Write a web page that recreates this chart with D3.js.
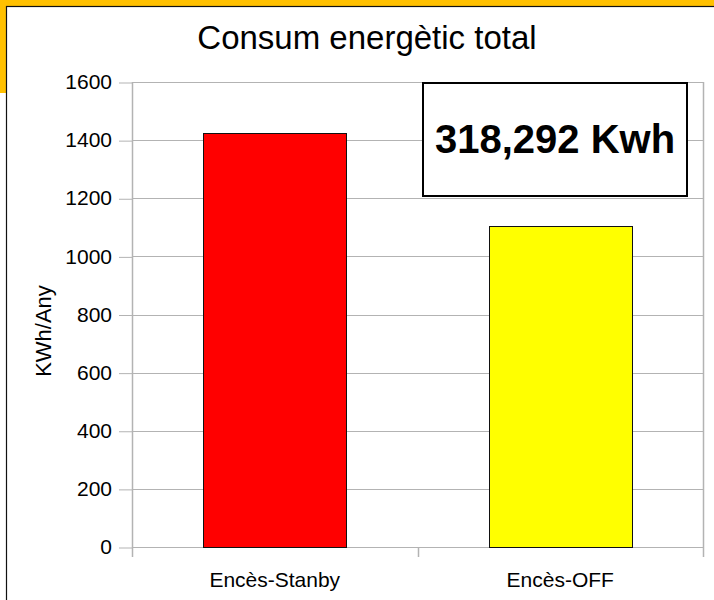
<!DOCTYPE html>
<html>
<head>
<meta charset="utf-8">
<script src="https://cdn.jsdelivr.net/npm/d3@7"></script>
<style>
  body { margin: 0; background: #fff; }
  text { font-family: Arial, "Liberation Sans", sans-serif; }
</style>
</head>
<body>
<div id="my_dataviz"></div>
<script>

// data
var categories = ["Encès-Stanby", "Encès-OFF"];
var consum = [1424, 1105.7];
var barColors = ["#ff0000", "#ffff00"];
var yTicks = [0, 200, 400, 600, 800, 1000, 1200, 1400, 1600];
var title = "Consum energètic total";
var yLabel = "KWh/Any";
var boxLabel = "318,292 Kwh";

var width = 714, height = 600;
var margin = {top: 82, right: 11, bottom: 53, left: 132};

var svg = d3.select("#my_dataviz")
  .append("svg")
  .attr("width", width)
  .attr("height", height);

// orange frame behind the white panel
svg.append("rect")
  .attr("x", 0).attr("y", 0)
  .attr("width", width).attr("height", 93)
  .attr("fill", "#ffc000");

svg.append("rect")
  .attr("x", 6.5).attr("y", 6.5)
  .attr("width", width + 20).attr("height", height + 20)
  .attr("fill", "#fff")
  .attr("stroke", "#111")
  .attr("stroke-width", 1.2);

var x = d3.scaleBand()
  .domain(categories)
  .range([margin.left, width - margin.right])
  .padding(0);

var y = d3.scaleLinear()
  .domain([0, 1600])
  .range([height - margin.bottom, margin.top]);

// horizontal grid + left ticks
var yAxis = svg.append("g")
  .attr("transform", "translate(" + margin.left + ",0)")
  .call(d3.axisLeft(y).tickValues(yTicks).tickFormat(d3.format("d"))
    .tickSize(13).tickPadding(7).tickSizeOuter(0));

yAxis.select(".domain").remove();
yAxis.selectAll(".tick line").attr("stroke", "#b3b3b3");
yAxis.selectAll(".tick text")
  .attr("font-size", "21px")
  .attr("fill", "#000");

svg.append("g").selectAll("line")
  .data(yTicks)
  .enter().append("line")
  .attr("x1", margin.left)
  .attr("x2", width - margin.right)
  .attr("y1", d => Math.round(y(d)) + 0.5)
  .attr("y2", d => Math.round(y(d)) + 0.5)
  .attr("stroke", "#b3b3b3");

yAxis.selectAll(".tick line")
  .attr("y1", 0.5).attr("y2", 0.5);

// vertical edges of the plot, with category boundary ticks below the zero line
var bounds = [margin.left, x(categories[1]), width - margin.right];
svg.append("g").selectAll("line")
  .data(bounds)
  .enter().append("line")
  .attr("x1", d => Math.round(d) + 0.5)
  .attr("x2", d => Math.round(d) + 0.5)
  .attr("y1", (d, i) => i == 1 ? y(0) : y(1600))
  .attr("y2", y(0) + 10)
  .attr("stroke", "#b3b3b3")
  .attr("stroke-width", 1.5);

// bars
var barW = x.bandwidth() * 0.5;
svg.append("g").selectAll("rect")
  .data(consum)
  .enter().append("rect")
  .attr("x", (d, i) => Math.round(x(categories[i]) + (x.bandwidth() - barW) / 2) + 0.5)
  .attr("y", d => Math.round(y(d)) + 0.5)
  .attr("width", Math.round(barW))
  .attr("height", d => Math.round(y(0)) - Math.round(y(d)))
  .attr("fill", (d, i) => barColors[i])
  .attr("stroke", "#111")
  .attr("stroke-width", 1);

// category labels
svg.append("g").selectAll("text")
  .data(categories)
  .enter().append("text")
  .attr("x", d => x(d) + x.bandwidth() / 2)
  .attr("y", y(0) + 40)
  .attr("text-anchor", "middle")
  .attr("font-size", "21px")
  .text(d => d);

// title
svg.append("text")
  .attr("x", 367)
  .attr("y", 49)
  .attr("text-anchor", "middle")
  .attr("font-size", "33px")
  .text(title);

// y axis title
svg.append("text")
  .attr("transform", "translate(51," + 331 + ") rotate(-90)")
  .attr("text-anchor", "middle")
  .attr("font-size", "22px")
  .text(yLabel);

// the boxed total
svg.append("rect")
  .attr("x", 423).attr("y", 83)
  .attr("width", 264).attr("height", 113)
  .attr("fill", "#fff")
  .attr("stroke", "#000")
  .attr("stroke-width", 2);

svg.append("text")
  .attr("x", 555)
  .attr("y", 153)
  .attr("text-anchor", "middle")
  .attr("font-size", "40px")
  .attr("font-weight", "bold")
  .text(boxLabel);

</script>
</body>
</html>
